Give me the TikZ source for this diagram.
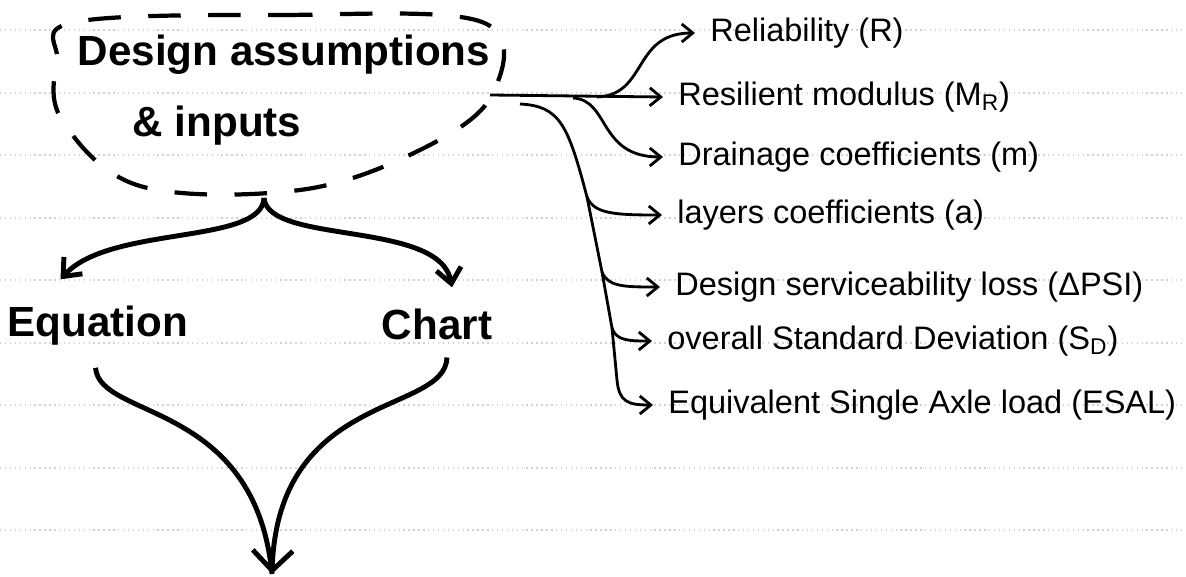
\documentclass[tikz,border=0pt]{standalone}
\usepackage{amsmath}
\usepackage{fontspec}
\setmainfont{Liberation Sans}
\usetikzlibrary{arrows.meta}

\begin{document}
\begin{tikzpicture}[
		x=0.2mm, y=-0.2mm,
		every node/.style={inner sep=1pt},
		item/.style={anchor=west, inner xsep=0.3cm, font=\fontsize{18.5}{22}\selectfont},
		big/.style={font=\fontsize{24}{40}\selectfont\bfseries},
		link/.style={-{Straight Barb[length=2.2mm, width=3.6mm]}, line width=1.6pt},
		flow/.style={line width=2.8pt},
		tip/.style={-{Straight Barb[length=3mm, width=5mm]}}
	]
  \useasboundingbox (0,0) rectangle (1186,577);
  % ruled paper
  \foreach \y in {30,93,155,218,280,343,405,468,530}
    \draw [gray!35, dotted, line width=0.8pt] (0,\y) -- (1186,\y);

  % inputs block with its dashed outline
  \node (inputs) [big, align=left] at (284,90)
        {Design assumptions\\\hspace*{1.1cm}\& inputs};
  \draw [dashed, dash pattern=on 0.65cm off 0.55cm, line width=2.4pt]
        plot [smooth cycle, tension=0.6] coordinates
        {(75,22) (280,15) (482,22) (492,95) (420,150) (300,190) (140,186) (62,120) (57,60)};
  \coordinate (inputs-r) at (490,95);

  \node (eq) [big, anchor=base] at (98,337) {Equation};
  \node (chart) [big, anchor=base] at (437,340) {Chart};
  \coordinate (fork) at (264,198);
  \coordinate (result) at (272,574);

  \node (rel) [item] at (695,33) {Reliability (R)};
  \node (mr) [item] at (663,97) {Resilient modulus (M\textsubscript{R})};
  \node (drain) [item] at (663,157) {Drainage coefficients (m)};
  \node (layers) [item] at (662,215) {layers coefficients (a)};
  \node (dpsi) [item] at (660,287) {Design serviceability loss (ΔPSI)};
  \node (sd) [item] at (652,341) {overall Standard Deviation (S\textsubscript{D})};
  \node (esal) [item] at (653,405) {Equivalent Single Axle load (ESAL)};

  % inputs -> methods -> result
  \draw [flow, tip] (fork) .. controls (262,245) and (110,225) .. ([xshift=-0.75cm, yshift=0.5cm]eq.north);
  \draw [flow, tip] (fork) .. controls (268,245) and (440,220) .. ([xshift=0.3cm, yshift=0.4cm]chart.north);
  \draw [flow] ([xshift=-0.05cm, yshift=-0.4cm]eq.south) .. controls (100,420) and (255,400) .. (result);
  \draw [flow, -{Straight Barb[length=4mm, width=8mm]}]
        ([xshift=0.2cm, yshift=-0.3cm]chart.south) .. controls (445,415) and (278,390) .. (result);

  % inputs -> parameters
  \coordinate (hub-a) at (597,97);
  \coordinate (hub-b) at (573,98);
  \coordinate (hub-c) at (520,104);
  \coordinate (t1) at (587,197);
  \coordinate (t2) at (602,272);
  \coordinate (t3) at (612,328);
  \draw [link] (inputs-r) -- (mr.west);
  \draw [link] (hub-a) .. controls (648,95) and (632,33) .. (rel.west);
  \draw [link] (hub-b) .. controls (610,100) and (598,157) .. (drain.west);
  \draw [link] (hub-c) .. controls (560,106) and (568,125) .. (t1) -- (t2) -- (t3)
                -- (617,380) .. controls (619,402) and (628,405) .. (esal.west);
  \draw [link] (t1) .. controls (594,214) and (615,215) .. (layers.west);
  \draw [link] (t2) .. controls (608,287) and (625,287) .. (dpsi.west);
  \draw [link] (t3) .. controls (616,341) and (630,341) .. (sd.west);
\end{tikzpicture}
\end{document}
